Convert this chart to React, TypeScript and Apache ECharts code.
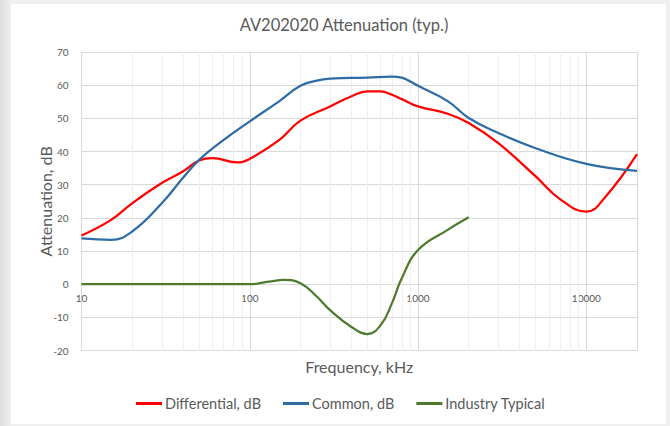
import React, { useEffect, useRef } from "react";
import * as echarts from "echarts";

const title = "AV202020 Attenuation (typ.)";
const seriesNames = ["Differential, dB", "Common, dB", "Industry Typical"];

const diffFreq = [10, 15, 20, 30, 40, 50, 60, 85, 100, 150, 200, 300, 400, 500, 600, 700, 800, 1000, 1500, 2000, 3000, 5000, 7000, 10000, 13000, 20000];
const diffVals = [14.7, 19.4, 24.4, 30.5, 34.0, 37.3, 38.0, 36.7, 37.8, 43.5, 49.3, 53.6, 56.6, 58.1, 58.1, 57.1, 55.8, 53.6, 51.4, 48.6, 42.5, 32.5, 25.6, 21.9, 26.4, 39.2];

const commonFreq = [10, 15, 20, 30, 40, 50, 70, 100, 150, 200, 250, 300, 500, 700, 800, 900, 1000, 1500, 2000, 3000, 5000, 10000, 20000];
const commonVals = [13.8, 13.4, 15.9, 24.4, 32.0, 37.5, 43.5, 49.1, 55.2, 59.8, 61.4, 62.0, 62.3, 62.6, 62.3, 61.1, 59.8, 55.2, 50.1, 45.6, 41.0, 36.3, 34.2];

const industryFreq = [10, 50, 100, 130, 160, 200, 250, 300, 400, 500, 600, 700, 800, 1000, 1500, 2000];
const industryVals = [0, 0, 0, 0.8, 1.3, 0.3, -3.7, -7.8, -12.8, -15.0, -12.3, -5.7, 1.8, 10.3, 16.4, 20.2];

const minorGridFreq = [20, 30, 40, 50, 60, 70, 80, 90, 200, 300, 400, 500, 600, 700, 800, 900, 2000, 3000, 4000, 5000, 6000, 7000, 8000, 9000];

const colors = ["#ff0000", "#2e6ca4", "#4e7a2e"];
const FONT = "Lato, 'Open Sans', sans-serif";
const TXT = "#595959";

const Y_MIN = -20;
const Y_MAX = 70;
const GRID_TOP = 52;
const GRID_BOTTOM = 75.4;
const CHART_H = 426;

const pairs = (xs: number[], ys: number[]) => xs.map((x, i) => [x, ys[i]]);

export default function App() {
  const ref = useRef<HTMLDivElement>(null);
  useEffect(() => {
    if (!ref.current) return;
    const chart = echarts.init(ref.current, null, { renderer: "svg" });
    const plotH = CHART_H - GRID_TOP - GRID_BOTTOM;
    // distance from plot bottom to the zero line (x axis crosses at 0, as in the reference)
    const zeroOffset = (plotH * (0 - Y_MIN)) / (Y_MAX - Y_MIN);
    const lineSeries = (name: string, data: number[][], color: string) => ({
      name,
      type: "line",
      data,
      smooth: 0.45,
      symbol: "none",
      z: 3,
      lineStyle: { color, width: 2.25 },
      itemStyle: { color },
    });
    chart.setOption({
      animation: false,
      backgroundColor: "transparent",
      title: {
        text: title,
        left: 339,
        textAlign: "center",
        top: 11,
        textStyle: { fontFamily: FONT, fontSize: 16.5, fontWeight: "normal", color: TXT },
      },
      legend: {
        data: seriesNames,
        top: 391,
        left: 131,
        icon: "rect",
        itemWidth: 26,
        itemHeight: 3,
        itemGap: 22,
        textStyle: { fontFamily: FONT, fontSize: 14.5, color: TXT, padding: [0, 0, 0, -2] },
      },
      grid: {
        left: 81.5,
        right: 33,
        top: GRID_TOP,
        bottom: GRID_BOTTOM,
        containLabel: false,
        outerBoundsMode: "none",
      },
      xAxis: {
        type: "log",
        logBase: 10,
        min: 10,
        max: 20000,
        position: "bottom",
        offset: -zeroOffset,
        name: "Frequency, kHz",
        nameLocation: "middle",
        nameGap: 74,
        nameTextStyle: { fontFamily: FONT, fontSize: 16, color: TXT },
        axisLine: { onZero: false, lineStyle: { color: "#d9d9d9", width: 1 } },
        axisTick: { show: false },
        axisLabel: {
          fontFamily: FONT,
          fontSize: 10,
          color: TXT,
          margin: 9,
          showMaxLabel: false,
          formatter: (v: number) => String(Math.round(v)),
        },
        splitLine: { show: true, lineStyle: { color: "#d9d9d9", width: 1 } },
      },
      yAxis: {
        type: "value",
        min: Y_MIN,
        max: Y_MAX,
        interval: 10,
        name: "Attenuation, dB",
        nameLocation: "middle",
        nameGap: 28,
        nameMoveOverlap: false,
        nameTextStyle: { fontFamily: FONT, fontSize: 16, color: TXT },
        axisLine: { show: false },
        axisTick: { show: false },
        axisLabel: { fontFamily: FONT, fontSize: 10, color: TXT, margin: 13 },
        splitLine: { show: true, lineStyle: { color: "#d9d9d9", width: 1 } },
      },
      series: [
        {
          name: "minor-grid",
          type: "line",
          data: [[10, -100]],
          symbol: "none",
          silent: true,
          z: 1,
          lineStyle: { opacity: 0 },
          markLine: {
            silent: true,
            z: 1,
            zlevel: 0,
            symbol: ["none", "none"],
            label: { show: false },
            emphasis: { disabled: true },
            lineStyle: { color: "#efefef", width: 1, type: "solid" },
            data: minorGridFreq.map((f) => ({ xAxis: f })),
          },
        },
        lineSeries(seriesNames[0], pairs(diffFreq, diffVals), colors[0]),
        lineSeries(seriesNames[1], pairs(commonFreq, commonVals), colors[1]),
        lineSeries(seriesNames[2], pairs(industryFreq, industryVals), colors[2]),
      ],
    });
    return () => chart.dispose();
  }, []);

  return (
    <div
      style={{
        position: "fixed",
        left: 0,
        top: 0,
        width: 670,
        height: 426,
        background: "linear-gradient(to right, #dcdcdc, #efefef 11px, #efefef)",
        overflow: "hidden",
      }}
    >
      <div
        style={{
          position: "absolute",
          left: 11,
          top: 4,
          width: 655,
          height: 420,
          background: "#ffffff",
        }}
      />
      <div ref={ref} style={{ position: "absolute", left: 0, top: 0, width: 670, height: CHART_H }} />
    </div>
  );
}
